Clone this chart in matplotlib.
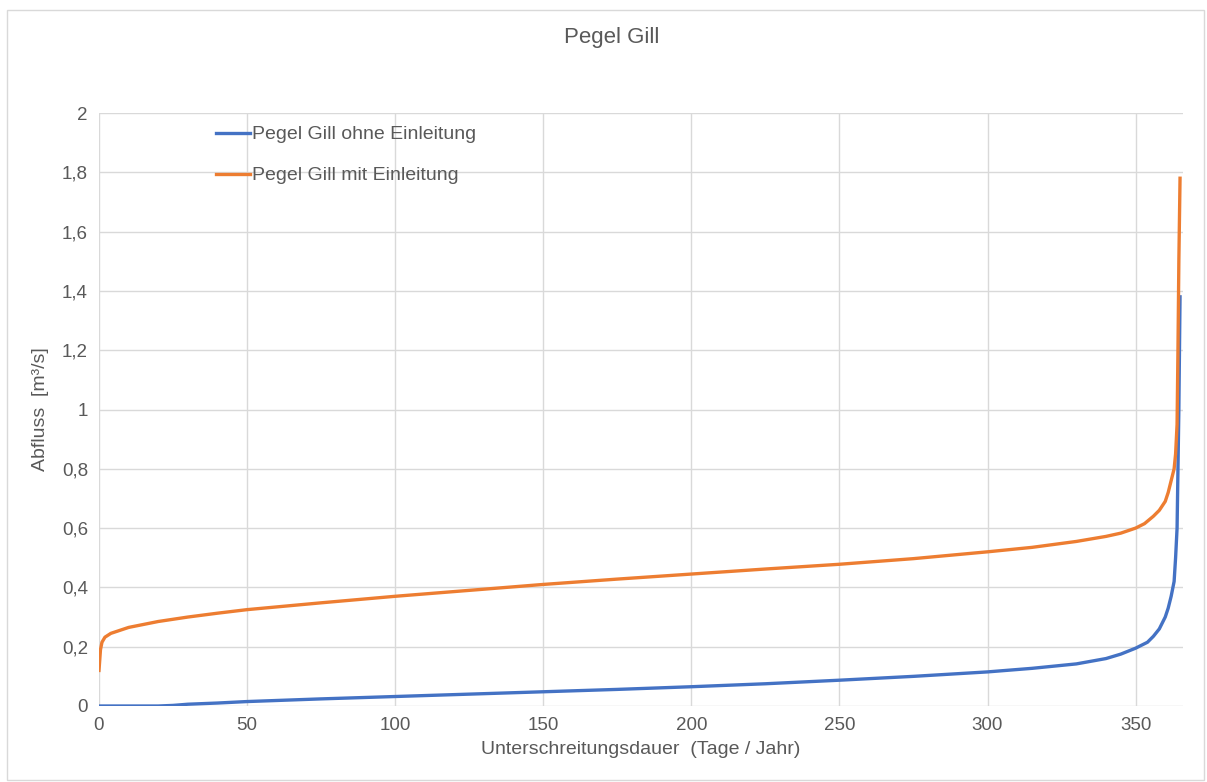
import matplotlib.pyplot as plt
from matplotlib.patches import Rectangle
from matplotlib.ticker import FuncFormatter

tage_ohne = [0, 10, 20, 25, 30, 40, 50, 75, 100, 125, 150, 175, 200, 225, 250, 275, 300,
             315, 330, 340, 345, 350, 354, 356, 358, 360, 361, 362, 363, 363.5, 364, 364.3, 364.6, 365]
abfluss_ohne = [0.0, 0.0, 0.0, 0.002, 0.006, 0.01, 0.015, 0.024, 0.032, 0.04, 0.048, 0.056, 0.065,
                0.075, 0.087, 0.1, 0.115, 0.127, 0.142, 0.16, 0.175, 0.195, 0.215, 0.235, 0.26, 0.3,
                0.33, 0.37, 0.42, 0.5, 0.6, 0.8, 1.0, 1.38]

tage_mit = [0, 0.5, 1, 2, 4, 7, 10, 15, 20, 30, 40, 50, 75, 100, 125, 150, 175, 200, 225, 250, 275,
            300, 315, 330, 340, 345, 350, 353, 356, 358, 360, 361, 362, 363, 363.5, 364, 364.3, 364.6, 365]
abfluss_mit = [0.12, 0.19, 0.215, 0.232, 0.245, 0.255, 0.265, 0.275, 0.285, 0.3, 0.313, 0.325, 0.348,
               0.37, 0.39, 0.41, 0.428, 0.445, 0.462, 0.478, 0.497, 0.52, 0.535, 0.555, 0.572, 0.583,
               0.6, 0.615, 0.64, 0.66, 0.69, 0.72, 0.76, 0.8, 0.85, 0.95, 1.2, 1.5, 1.78]

plt.rcParams['font.family'] = ['Liberation Sans', 'DejaVu Sans']
grau = '#595959'

fig = plt.figure(figsize=(12.07, 7.82), dpi=100)
fig.patches.append(Rectangle((7 / 1207, 2 / 782), 1197 / 1207, 770 / 782, transform=fig.transFigure,
                             fill=False, edgecolor='#d9d9d9', linewidth=1))
ax = fig.add_axes([99 / 1207, 76 / 782, 1084 / 1207, 593 / 782])

ax.plot(tage_ohne, abfluss_ohne, color='#4472c4', linewidth=2.4, label='Pegel Gill ohne Einleitung')
ax.plot(tage_mit, abfluss_mit, color='#ed7d31', linewidth=2.4, label='Pegel Gill mit Einleitung')

ax.set_xlim(0, 366)
ax.set_ylim(0, 2)
ax.set_xticks(range(0, 351, 50))
ax.set_yticks([i / 5 for i in range(11)])
ax.yaxis.set_major_formatter(FuncFormatter(lambda v, p: ('%g' % round(v, 1)).replace('.', ',')))
ax.grid(True, color='#d9d9d9', linewidth=1)
ax.set_axisbelow(True)
for s in ax.spines.values():
    s.set_visible(False)
ax.tick_params(length=0, labelsize=13.5, colors=grau, pad=8)

ax.set_xlabel('Unterschreitungsdauer  (Tage / Jahr)', fontsize=14, color=grau, labelpad=5)
ax.set_ylabel('Abfluss  [m³/s]', fontsize=14, color=grau, labelpad=19)
ax.yaxis.set_label_coords(-50 / 1084, 0.5)
fig.text(612 / 1207, 1 - 37 / 782, 'Pegel Gill', ha='center', va='center', fontsize=16, color=grau)

ax.legend(loc='upper left', bbox_to_anchor=(0.092, 1.008), frameon=False, fontsize=14,
          labelcolor=grau, handlelength=1.75, handletextpad=0.1, labelspacing=1.2)

fig.savefig('out.png', dpi=100)
